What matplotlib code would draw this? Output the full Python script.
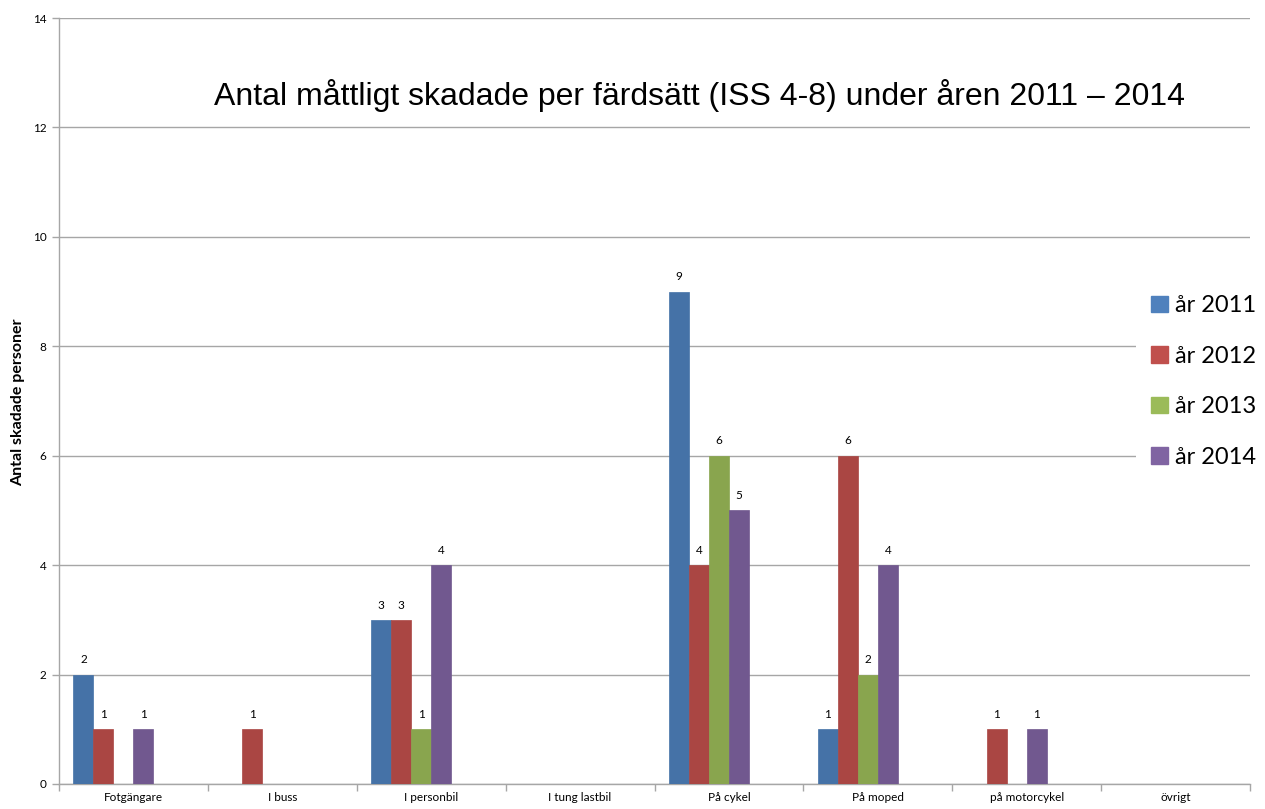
import matplotlib
matplotlib.use("Agg")
import matplotlib.pyplot as plt
from matplotlib.patches import Patch, Rectangle
import numpy as np

categories = ["Fotgängare", "I buss", "I personbil", "I tung lastbil", "På cykel", "På moped", "på motorcykel", "övrigt"]
series_names = ["år 2011", "år 2012", "år 2013", "år 2014"]
v2011 = [2, 0, 3, 0, 9, 1, 0, 0]
v2012 = [1, 1, 3, 0, 4, 6, 1, 0]
v2013 = [0, 0, 1, 0, 6, 2, 0, 0]
v2014 = [1, 0, 4, 0, 5, 4, 1, 0]
series = [v2011, v2012, v2013, v2014]
bar_colors = ["#4572A7", "#AA4643", "#89A54E", "#71588F"]
legend_colors = ["#4F81BD", "#C0504D", "#9BBB59", "#8064A2"]
yticks = [0, 2, 4, 6, 8, 10, 12, 14]

fig = plt.figure(figsize=(12.65, 8.09), dpi=100)
ax = fig.add_axes([59/1265, 25/809, (1250-59)/1265, (784-18)/809])

x = np.arange(len(categories))
w = 20/149
start = -0.5 + 14.5/149
for i, (vals, c) in enumerate(zip(series, bar_colors)):
    pos = x + start + w*(i+0.5)
    vals = np.array(vals)
    mask = vals > 0
    ax.bar(pos[mask], vals[mask], width=w, color=c, edgecolor=c, linewidth=0.5, zorder=3)
    for p, v in zip(pos[mask], vals[mask]):
        ax.text(p, v + 0.17, str(v), ha="center", va="bottom", fontsize=8.5, family="Lato", color="#000000")

ax.set_xlim(-0.5, len(categories) - 0.5)
ax.set_ylim(0, 14)
ax.set_yticks(yticks)
ax.set_yticklabels([str(t) for t in yticks], fontsize=8.5, family="Lato")
ax.yaxis.grid(True, color="#A6A6A6", linewidth=1.0, zorder=0)
ax.set_xticks(x)
ax.set_xticklabels(categories, fontsize=8.5, family="Lato")
ax.tick_params(axis="x", length=0, pad=6)
ax.set_xticks(np.arange(-0.5, len(categories) + 0.5, 1), minor=True)
ax.tick_params(axis="x", which="minor", length=5, color="#A6A6A6", width=1)
ax.tick_params(axis="y", length=5, color="#A6A6A6", width=1, pad=4)
for s in ["top", "right"]:
    ax.spines[s].set_visible(False)
for s in ["left", "bottom"]:
    ax.spines[s].set_color("#A6A6A6")
    ax.spines[s].set_linewidth(1.0)

fig.text(18/1265, 1 - 402/809, "Antal skadade personer", rotation=90, ha="center", va="center",
         fontsize=11.5, fontweight="bold", family="Lato")

fig.text(700/1265, 1 - 96/809, "Antal måttligt skadade per färdsätt (ISS 4-8) under åren 2011 – 2014",
         ha="center", va="center", fontsize=23, family="Liberation Sans")

# white legend area covering gridlines
bg = Rectangle((1136/1265, 1 - 490/809), (1265-1136)/1265, 220/809, transform=fig.transFigure,
               facecolor="white", edgecolor="none", zorder=5)
fig.patches.append(bg)

handles = [Patch(facecolor=c, edgecolor=c) for c in legend_colors]
leg = fig.legend(handles, series_names, loc="upper left", bbox_to_anchor=(1130/1265, 1 - 274/809),
                 frameon=False, prop={"family": "Lato", "size": 17}, handlelength=0.7, handleheight=0.7,
                 handletextpad=0.3, labelspacing=1.25)
leg.set_zorder(6)

fig.savefig("out.png", dpi=100)
